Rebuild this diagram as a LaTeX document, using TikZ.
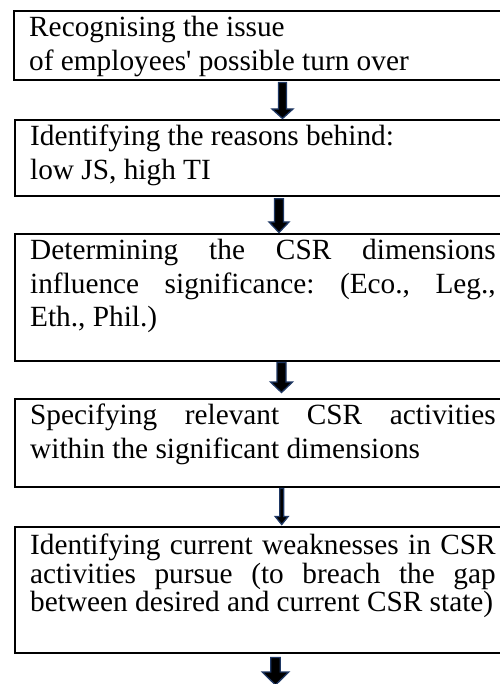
\documentclass[tikz,border=0pt]{standalone}
\usepackage{fontspec}
\newfontfamily\boxfont{Liberation Serif}
\usetikzlibrary{calc}
\definecolor{arrowedge}{RGB}{31,56,100}
\frenchspacing

% a line spread out to the full text width
\newcommand\jline[1]{\makebox[465.5pt][s]{#1}}

% block arrow: #1 start point, #2 end point, #3 x position,
% #4 gap below start, #5 gap above end, #6 head length,
% #7 shaft half width, #8 head half width
\newcommand\flowarrow[8]{%
  \draw[flow] let \p1=(#1), \p2=(#2) in
    ({#3pt-#7pt},{\y1-#4pt}) -- ({#3pt+#7pt},{\y1-#4pt})
    -- ({#3pt+#7pt},{\y2+#5pt+#6pt}) -- ({#3pt+#8pt},{\y2+#5pt+#6pt})
    -- ({#3pt},{\y2+#5pt})
    -- ({#3pt-#8pt},{\y2+#5pt+#6pt}) -- ({#3pt-#7pt},{\y2+#5pt+#6pt})
    -- cycle;}

\begin{document}
\begin{tikzpicture}[x=1pt,y=-1pt,
  stage/.style={draw=black, line width=2pt, rectangle, inner sep=0pt,
    outer sep=0pt, anchor=north west, minimum width=496pt},
  % texts are placed by the baseline of their last line
  label/.style={anchor=base west, inner sep=0pt, align=left,
    font=\boxfont\fontsize{29.3}{33.5}\selectfont},
  flow/.style={fill=black, draw=arrowedge, line width=1.3pt, line join=miter}]
\useasboundingbox (0,0) rectangle (499,684);

% stages
\node[stage, minimum height=69pt]  (b1) at (14,11)  {};
\node[stage, minimum height=76pt]  (b2) at (15,120) {};
\node[stage, minimum height=127pt] (b3) at (15,234) {};
\node[stage, minimum height=88pt]  (b4) at (15,399) {};
\node[stage, minimum height=126pt] (b5) at (15,527) {};

% stage texts
\node[label, font=\boxfont\fontsize{29.3}{34.3}\selectfont] (t1)
  at ($(b1.north west)+(15,59.8)$)
  {Recognising the issue\\of employees' possible turn over};
\node[label] (t2) at ($(b2.north west)+(15,59.3)$)
  {Identifying the reasons behind:\\low JS, high TI};
\node[label] (t3) at ($(b3.north west)+(15,92.8)$)
  {\jline{Determining the CSR dimensions}\\
   \jline{influence significance: (Eco., Leg.,}\\
   Eth., Phil.)};
\node[label] (t4) at ($(b4.north west)+(15,59.3)$)
  {\jline{Specifying relevant CSR activities}\\
   within the significant dimensions};
\node[label, font=\boxfont\fontsize{29.3}{28.5}\selectfont] (t5)
  at ($(b5.north west)+(15,84.7)$)
  {\jline{Identifying current weaknesses in CSR}\\
   \jline{activities pursue (to breach the gap}\\
   between desired and current CSR state)};

% free end of the last arrow
\coordinate (end) at (275.5,686);

% arrows between stages
\flowarrow{b1.south}{b2.north}{282.5}{2.6}{1.5}{9.5}{4}{10.5}
\flowarrow{b2.south}{b3.north}{279}{2.8}{1.5}{10.5}{4.5}{10}
\flowarrow{b3.south}{b4.north}{281.5}{1.5}{6.5}{10.5}{4.5}{11}
\flowarrow{b4.south}{b5.north}{281.7}{1.5}{2.5}{8}{2}{6.5}
\flowarrow{b5.south}{end}{275.5}{4.5}{1}{13}{4.8}{13.3}
\end{tikzpicture}
\end{document}
